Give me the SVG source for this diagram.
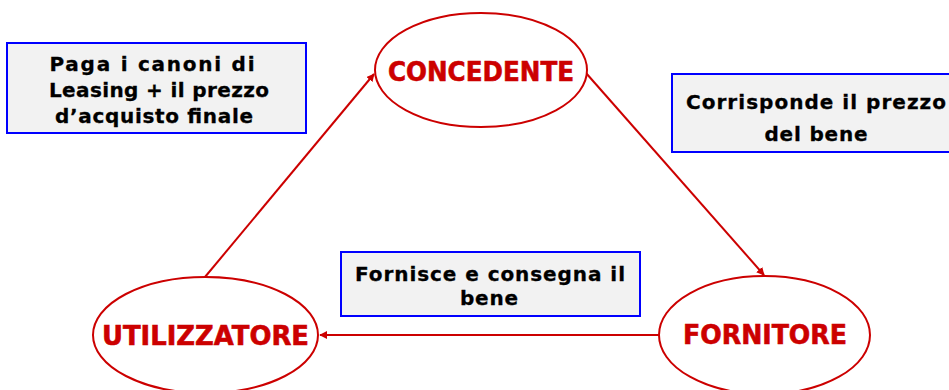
<svg xmlns="http://www.w3.org/2000/svg" width="949" height="390" viewBox="0 0 949 390">
  <style>
    .ell { fill: #FFFFFF; stroke: #CC0000; stroke-width: 2; }
    .lbl { font-family: "DejaVu Sans", Verdana, sans-serif; font-weight: bold; font-size: 26px; fill: #CC0000; stroke: #CC0000; stroke-width: 0.6; text-anchor: middle; }
    .box { fill: #F2F2F2; stroke: #0000FF; stroke-width: 2; }
    .txt { font-family: "DejaVu Sans", Verdana, sans-serif; font-weight: bold; font-size: 20px; fill: #000000; stroke: #000000; stroke-width: 0.3; text-anchor: middle; }
    .con { stroke: #CC0000; stroke-width: 2; fill: none; marker-end: url(#arr); }
  </style>
  <defs>
    <marker id="arr" viewBox="0 0 10 10" refX="9" refY="5" markerWidth="8" markerHeight="8" markerUnits="userSpaceOnUse" orient="auto">
      <path d="M0,0 L10,5 L0,10 Z" fill="#CC0000"/>
    </marker>
  </defs>
  <rect width="949" height="390" fill="#FFFFFF"/>

  <g id="connectors">
    <line class="con" x1="205" y1="277" x2="374" y2="74"/>
    <line class="con" x1="586" y1="73" x2="764" y2="275"/>
    <line class="con" x1="659" y1="335" x2="320" y2="335"/>
  </g>

  <g id="concedente">
    <ellipse class="ell" cx="481" cy="70" rx="106" ry="57"/>
    <text class="lbl" x="481" y="81" textLength="186" lengthAdjust="spacingAndGlyphs">CONCEDENTE</text>
  </g>
  <g id="utilizzatore">
    <ellipse class="ell" cx="205.5" cy="335" rx="112.5" ry="58"/>
    <text class="lbl" x="205.5" y="345" textLength="207" lengthAdjust="spacingAndGlyphs">UTILIZZATORE</text>
  </g>
  <g id="fornitore">
    <ellipse class="ell" cx="764.5" cy="335" rx="105.5" ry="59"/>
    <text class="lbl" x="765" y="344" textLength="164" lengthAdjust="spacingAndGlyphs">FORNITORE</text>
  </g>

  <g id="label-paga">
    <rect class="box" x="7" y="43" width="299" height="90"/>
    <text class="txt" x="152" y="71" textLength="205" lengthAdjust="spacing">Paga i canoni di</text>
    <text class="txt" x="159" y="97" textLength="220" lengthAdjust="spacing">Leasing + il prezzo</text>
    <text class="txt" x="154" y="123" textLength="198" lengthAdjust="spacing">d’acquisto finale</text>
  </g>
  <g id="label-corrisponde">
    <rect class="box" x="672" y="74" width="290" height="78"/>
    <text class="txt" x="816" y="109" textLength="260" lengthAdjust="spacing">Corrisponde il prezzo</text>
    <text class="txt" x="816" y="141" textLength="103" lengthAdjust="spacing">del bene</text>
  </g>
  <g id="label-fornisce">
    <rect class="box" x="341" y="252" width="299" height="64"/>
    <text class="txt" x="490" y="281" textLength="270" lengthAdjust="spacing">Fornisce e consegna il</text>
    <text class="txt" x="489" y="305" textLength="58" lengthAdjust="spacing">bene</text>
  </g>
</svg>
